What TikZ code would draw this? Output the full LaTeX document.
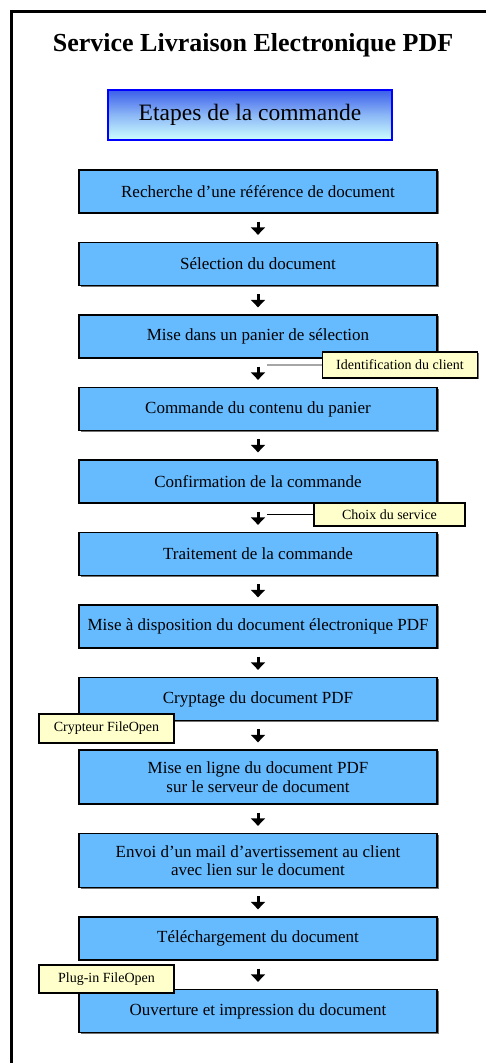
\documentclass[tikz,border=0pt]{standalone}
\usepackage{fontspec}
\setmainfont{Liberation Serif}
\usepackage{xcolor}
\usetikzlibrary{arrows.meta, positioning, shadows}
\definecolor{stepblue}{RGB}{102,187,255}
\definecolor{noteyellow}{RGB}{255,255,204}
\definecolor{headtop}{RGB}{60,95,235}
\definecolor{headbottom}{RGB}{205,255,255}

\begin{document}
\begin{tikzpicture}[
    x=1pt, y=1pt,
    node distance=28.2pt,
    etape/.style={rectangle, draw=black, line width=1.3pt, fill=stepblue, minimum width=358pt, minimum height=43pt, inner sep=2pt, align=center, font=\fontsize{17}{18.5}\selectfont, drop shadow={shadow xshift=1.5pt, shadow yshift=-1.5pt, fill=black!55, opacity=1}},
    etapehaute/.style={etape, minimum height=54pt},
    entete/.style={rectangle, draw=blue, line width=1.2pt, top color=headtop, bottom color=headbottom, middle color=headtop!45!headbottom, minimum width=284pt, minimum height=50pt, font=\fontsize{23.5}{25}\selectfont},
    remarque/.style={rectangle, draw=black, line width=1.3pt, fill=noteyellow, inner sep=1pt, font=\fontsize{14}{15}\selectfont, drop shadow={shadow xshift=1pt, shadow yshift=-1pt, fill=black!55, opacity=1}},
    fleche/.style={-{Triangle[width=14pt, length=7.5pt]}, line width=3pt, shorten <=8pt, shorten >=7pt},
    lien/.style={line width=1pt}
]
    \useasboundingbox (0,0) rectangle (486,1063);
    \draw[line width=3pt] (11,0) -- (11,1051) -- (486,1051);

    \node (titre) at (253,1018) {\fontsize{26}{30}\selectfont\bfseries Service Livraison Electronique PDF};
    \node[entete] (etapes) at (250,948) {Etapes de la commande};

    \node[etape] (recherche) at (258,871.5) {Recherche d'une référence de document};
    \node[etape, below=of recherche] (selection) {Sélection du document};
    \node[etape, below=of selection] (panier) {Mise dans un panier de sélection};
    \node[etape, below=of panier] (contenu) {Commande du contenu du panier};
    \node[etape, below=of contenu] (confirmation) {Confirmation de la commande};
    \node[etape, below=of confirmation] (traitement) {Traitement de la commande};
    \node[etape, below=of traitement] (disposition) {Mise à disposition du document électronique PDF};
    \node[etape, below=of disposition] (cryptage) {Cryptage du document PDF};
    \node[etapehaute, below=of cryptage] (enligne) {Mise en ligne du document PDF\\sur le serveur de document};
    \node[etapehaute, below=of enligne] (envoi) {Envoi d'un mail d'avertissement au client\\avec lien sur le document};
    \node[etape, below=of envoi] (telechargement) {Téléchargement du document};
    \node[etape, below=of telechargement] (ouverture) {Ouverture et impression du document};

    \draw[fleche] (recherche) -- (selection);
    \draw[fleche] (selection) -- (panier);
    \draw[fleche] (panier) -- (contenu);
    \draw[fleche] (contenu) -- (confirmation);
    \draw[fleche] (confirmation) -- (traitement);
    \draw[fleche] (traitement) -- (disposition);
    \draw[fleche] (disposition) -- (cryptage);
    \draw[fleche] (cryptage) -- (enligne);
    \draw[fleche] (enligne) -- (envoi);
    \draw[fleche] (envoi) -- (telechargement);
    \draw[fleche] (telechargement) -- (ouverture);

    \node[remarque, minimum width=155pt, minimum height=26pt] (identification) at (400,698) {Identification du client};
    \node[remarque, minimum width=151pt, minimum height=23pt] (choix) at (389.5,548.5) {Choix du service};
    \node[remarque, minimum width=135pt, minimum height=29pt] (crypteur) at (106.5,334.5) {Crypteur FileOpen};
    \node[remarque, minimum width=135pt, minimum height=28pt] (plugin) at (106.5,84) {Plug-in FileOpen};

    \coordinate (identbout) at (267,698);
    \coordinate (choixbout) at (267,548.5);
    \draw[lien, line width=2pt, black!35] (identification) -- (identbout);
    \draw[lien] (choix) -- (choixbout);
\end{tikzpicture}
\end{document}
